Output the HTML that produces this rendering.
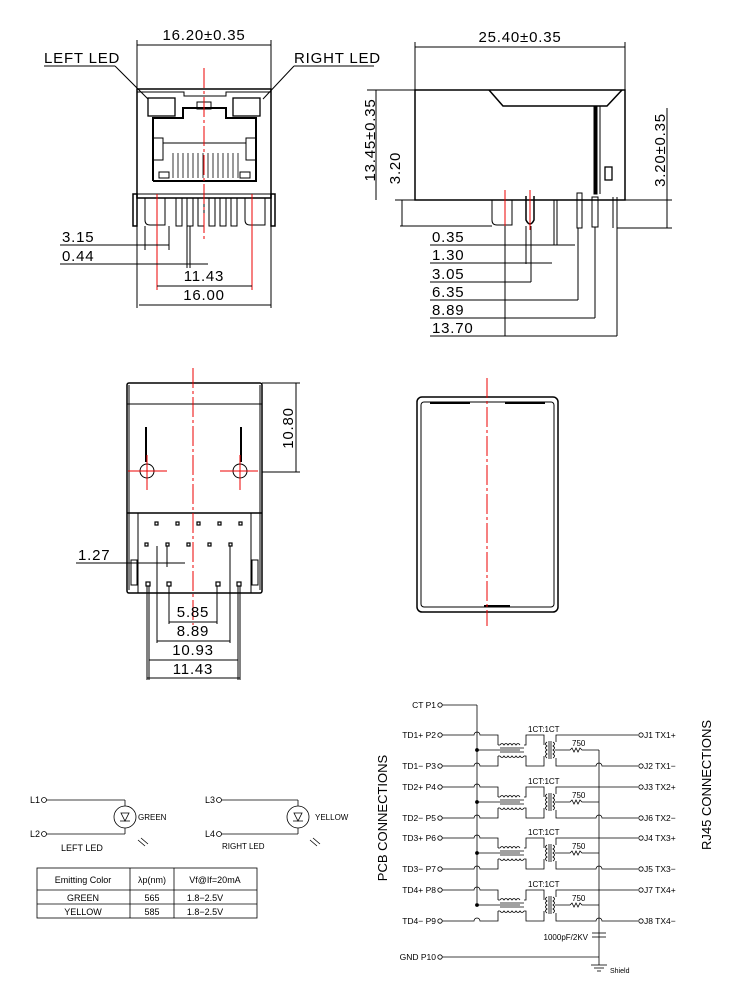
<!DOCTYPE html>
<html><head><meta charset="utf-8"><style>
html,body{margin:0;padding:0;background:#fff}
svg{display:block}
text{font-family:"Liberation Sans",sans-serif;fill:#000}
.d{font-size:15px;letter-spacing:0.8px}
.s{font-size:8px}
.t{font-size:8.5px}
.m{font-size:9px}
</style></head><body>
<svg width="750" height="994" viewBox="0 0 750 994" xmlns="http://www.w3.org/2000/svg" fill="none" stroke="#000" stroke-width="1">
<defs>
<g id="ch">
<circle cx="440" cy="735" r="2.2"/><circle cx="440" cy="766" r="2.2"/>
<path d="M442 735 H474 a3 3 0 0 1 6 0 H498 V745"/>
<path d="M442 766 H474 a3 3 0 0 1 6 0 H498 V756"/>
<line x1="477" y1="750" x2="520" y2="750"/><circle cx="477" cy="750" r="1.5" fill="#000"/>
<path d="M500 745 q2 -3 4 0 q2 -3 4 0 q2 -3 4 0 q2 -3 4 0 q2 -3 4 0 M500 756 q2 3 4 0 q2 3 4 0 q2 3 4 0 q2 3 4 0 q2 3 4 0 q2 3 4 0"/>
<line x1="500" y1="748" x2="524" y2="748"/><line x1="500" y1="752" x2="524" y2="752"/>
<path d="M498 745 H500 M498 756 H500 M524 745 H526 V735 H544 V745 M524 756 H526 V766 H544 V756"/>
<path d="M547 742 q-3 2 0 4 q-3 2 0 4 q-3 2 0 4 q-3 2 0 4 M553 742 q3 2 0 4 q3 2 0 4 q3 2 0 4 q3 2 0 4"/>
<line x1="549" y1="741" x2="549" y2="759"/><line x1="551" y1="741" x2="551" y2="759"/>
<path d="M556 742 V735 H638 M556 758 V766 H596 a3 3 0 0 1 6 0 H638 M555 750 H570 l2 -2 l2 4 l2 -4 l2 4 l2 -4 l2 2 H599"/>
<text class="s" x="528" y="732" stroke="none">1CT:1CT</text>
<text class="s" x="572" y="746" stroke="none">750</text>
<circle cx="641" cy="735" r="2.2"/><circle cx="641" cy="766" r="2.2"/>
</g>
</defs>
<!-- ===== TOP LEFT VIEW ===== -->
<g>
<line x1="137" y1="40" x2="137" y2="89"/><line x1="271" y1="40" x2="271" y2="89"/>
<line x1="137" y1="45" x2="271" y2="45"/>
<text class="d" x="204" y="40" text-anchor="middle" stroke="none">16.20±0.35</text>
<text class="d" x="44" y="63" stroke="none">LEFT  LED</text>
<line x1="44" y1="66" x2="115" y2="66"/><line x1="115" y1="66" x2="148" y2="99"/>
<text class="d" x="294" y="63" stroke="none">RIGHT  LED</text>
<line x1="294" y1="66" x2="374" y2="66"/><line x1="294" y1="66" x2="263" y2="99"/>
<rect x="137" y="89" width="134" height="109" stroke-width="1.5"/>
<polyline points="137,92 184,92 184,96 226,96 226,92 271,92"/>
<rect x="148" y="98" width="27" height="18" stroke-width="1.3"/>
<rect x="233" y="98" width="27" height="18" stroke-width="1.3"/>
<rect x="197" y="102" width="14" height="7"/>
<polyline points="153,181 153,118 183,118 183,108 226,108 226,118 256,118 256,181 153,181" stroke-width="2"/>
<rect x="153" y="138" width="10" height="22"/><rect x="246" y="138" width="10" height="22"/>
<line x1="163" y1="143" x2="246" y2="143"/>
<g stroke-width="0.8">
<line x1="173" y1="153" x2="173" y2="178"/><line x1="178" y1="153" x2="178" y2="178"/><line x1="183" y1="153" x2="183" y2="178"/><line x1="188" y1="153" x2="188" y2="178"/><line x1="193" y1="153" x2="193" y2="178"/><line x1="198" y1="153" x2="198" y2="178"/><line x1="203" y1="153" x2="203" y2="178"/><line x1="208" y1="153" x2="208" y2="178"/><line x1="213" y1="153" x2="213" y2="178"/><line x1="218" y1="153" x2="218" y2="178"/><line x1="223" y1="153" x2="223" y2="178"/><line x1="228" y1="153" x2="228" y2="178"/><line x1="233" y1="153" x2="233" y2="178"/><line x1="238" y1="153" x2="238" y2="178"/>
</g>
<rect x="159" y="172" width="10" height="6"/><rect x="240" y="172" width="10" height="6"/>
<line x1="133" y1="194" x2="275" y2="194"/>
<rect x="133" y="194" width="4" height="32" stroke-width="1.5"/><rect x="271" y="194" width="4" height="32" stroke-width="1.5"/>
<path d="M145 198 V220 Q145 225 150 225 H165 V198"/><path d="M245 198 V220 Q245 225 250 225 H265 V198"/>
<rect x="176" y="198" width="6" height="28"/><rect x="187" y="198" width="6" height="28"/><rect x="198" y="198" width="6" height="28"/><rect x="209" y="198" width="6" height="28"/><rect x="220" y="198" width="6" height="28"/><rect x="231" y="198" width="6" height="28"/>
<line x1="204" y1="68" x2="204" y2="242" stroke="#e00" stroke-dasharray="20,3,3,3"/>
<line x1="157" y1="194" x2="157" y2="290" stroke="#e00"/><line x1="252" y1="194" x2="252" y2="290" stroke="#e00"/>
<line x1="145" y1="226" x2="145" y2="250"/><line x1="169" y1="226" x2="169" y2="250"/>
<line x1="187" y1="226" x2="187" y2="268"/><line x1="190" y1="226" x2="190" y2="268"/>
<text class="d" x="62" y="242" stroke="none">3.15</text><line x1="60" y1="245" x2="169" y2="245"/>
<text class="d" x="62" y="261" stroke="none">0.44</text><line x1="60" y1="264" x2="208" y2="264"/>
<line x1="157" y1="286" x2="252" y2="286"/>
<text class="d" x="204" y="281" text-anchor="middle" stroke="none">11.43</text>
<line x1="137" y1="198" x2="137" y2="308"/><line x1="271" y1="198" x2="271" y2="308"/>
<line x1="139" y1="305" x2="271" y2="305"/>
<text class="d" x="204" y="300" text-anchor="middle" stroke="none">16.00</text>
</g>
<!-- ===== TOP RIGHT VIEW ===== -->
<g>
<line x1="415" y1="42" x2="415" y2="90"/><line x1="625" y1="42" x2="625" y2="90"/>
<line x1="415" y1="47" x2="625" y2="47"/>
<text class="d" x="520" y="42" text-anchor="middle" stroke="none">25.40±0.35</text>
<rect x="415" y="90" width="210" height="110" stroke-width="1.5"/>
<polyline points="489,90 503,106 607,106 622,90" stroke-width="1.5"/>
<rect x="594" y="106" width="3" height="88" fill="#000"/>
<line x1="600" y1="106" x2="600" y2="194"/>
<rect x="605" y="167" width="7" height="13" stroke-width="1.3"/>
<path d="M492 200 V220 Q492 225 497 225 H512 V200"/>
<path d="M526 196 V220 Q530 228 534 220 V196" stroke-width="1.5"/>
<line x1="554" y1="200" x2="554" y2="245"/><line x1="557" y1="200" x2="557" y2="245"/>
<rect x="577" y="193" width="5" height="35"/><rect x="592" y="197" width="6" height="30"/><line x1="617" y1="197" x2="617" y2="336"/><line x1="613" y1="197" x2="613" y2="228"/>
<line x1="505" y1="190" x2="505" y2="230" stroke="#e00"/><line x1="530" y1="190" x2="530" y2="230" stroke="#e00"/>
<line x1="367" y1="90" x2="415" y2="90"/><line x1="395" y1="200" x2="415" y2="200"/>
<line x1="376" y1="90" x2="376" y2="200"/>
<text class="d" transform="translate(377,140) rotate(-90)" text-anchor="middle" stroke="none" dy="-2">13.45±0.35</text>
<line x1="400" y1="226" x2="492" y2="226"/><line x1="402" y1="200" x2="402" y2="226"/>
<text class="d" transform="translate(400,168) rotate(-90)" text-anchor="middle" stroke="none">3.20</text>
<line x1="625" y1="200" x2="672" y2="200"/><line x1="617" y1="228" x2="672" y2="228"/>
<line x1="667" y1="200" x2="667" y2="228"/><line x1="667" y1="108" x2="667" y2="200"/>
<text class="d" transform="translate(665,150) rotate(-90)" text-anchor="middle" stroke="none">3.20±0.35</text>
<line x1="505" y1="226" x2="505" y2="336"/><line x1="526" y1="226" x2="526" y2="264"/><line x1="531" y1="226" x2="531" y2="282"/>
<line x1="578" y1="228" x2="578" y2="300"/>
<line x1="595" y1="227" x2="595" y2="318"/>
<text class="d" x="432" y="242" stroke="none">0.35</text><line x1="430" y1="245" x2="575" y2="245"/>
<text class="d" x="432" y="260" stroke="none">1.30</text><line x1="430" y1="263" x2="552" y2="263"/>
<text class="d" x="432" y="279" stroke="none">3.05</text><line x1="430" y1="282" x2="531" y2="282"/>
<text class="d" x="432" y="297" stroke="none">6.35</text><line x1="430" y1="300" x2="578" y2="300"/>
<text class="d" x="432" y="315" stroke="none">8.89</text><line x1="430" y1="318" x2="595" y2="318"/>
<text class="d" x="432" y="333" stroke="none">13.70</text><line x1="430" y1="336" x2="617" y2="336"/>
</g>
<!-- ===== BOTTOM LEFT VIEW ===== -->
<g>
<rect x="127" y="383" width="135" height="210" rx="2" stroke-width="1.5"/>
<line x1="129" y1="385" x2="129" y2="590"/><line x1="260" y1="385" x2="260" y2="590"/>
<line x1="127" y1="404" x2="262" y2="404"/>
<line x1="127" y1="513" x2="262" y2="513" stroke-width="1.5"/>
<line x1="138" y1="513" x2="138" y2="593"/><line x1="251" y1="513" x2="251" y2="593"/>
<line x1="146" y1="427" x2="146" y2="462" stroke-width="2"/><line x1="241" y1="427" x2="241" y2="462" stroke-width="2"/>
<circle cx="147" cy="471" r="7"/><circle cx="240" cy="471" r="7"/>
<line x1="128" y1="471" x2="167" y2="471" stroke="#e00"/><line x1="147" y1="455" x2="147" y2="490" stroke="#e00"/>
<line x1="220" y1="471" x2="258" y2="471" stroke="#e00"/><line x1="240" y1="455" x2="240" y2="490" stroke="#e00"/>
<line x1="193" y1="368" x2="193" y2="625" stroke="#e00" stroke-dasharray="20,3,3,3"/>
<g stroke-width="1.2">
<rect x="155" y="522" width="3" height="3"/><rect x="176" y="522" width="3" height="3"/><rect x="197" y="522" width="3" height="3"/><rect x="218" y="522" width="3" height="3"/><rect x="239" y="522" width="3" height="3"/>
<rect x="145" y="543" width="3" height="3"/><rect x="166" y="543" width="3" height="3"/><rect x="187" y="543" width="3" height="3"/><rect x="208" y="543" width="3" height="3"/><rect x="229" y="543" width="3" height="3"/>
<rect x="146" y="582" width="4" height="4"/><rect x="167" y="582" width="4" height="4"/><rect x="216" y="582" width="4" height="4"/><rect x="237" y="582" width="4" height="4"/>
</g>
<rect x="131" y="560" width="6" height="25"/><rect x="252" y="560" width="6" height="25"/>
<line x1="147" y1="586" x2="147" y2="680"/><line x1="149" y1="586" x2="149" y2="680"/>
<line x1="240" y1="586" x2="240" y2="680"/><line x1="238" y1="586" x2="238" y2="680"/>
<line x1="169" y1="586" x2="169" y2="624"/><line x1="217" y1="586" x2="217" y2="624"/>
<line x1="157" y1="546" x2="157" y2="643"/><line x1="230" y1="546" x2="230" y2="643"/>
<line x1="167" y1="546" x2="167" y2="567"/>
<line x1="262" y1="383" x2="300" y2="383"/><line x1="262" y1="472" x2="300" y2="472"/>
<line x1="296" y1="383" x2="296" y2="472"/>
<text class="d" transform="translate(293,428) rotate(-90)" text-anchor="middle" stroke="none">10.80</text>
<text class="d" x="78" y="560" stroke="none">1.27</text><line x1="76" y1="563" x2="185" y2="563"/>
<text class="d" x="193" y="617" text-anchor="middle" stroke="none">5.85</text><line x1="169" y1="622" x2="217" y2="622"/>
<text class="d" x="193" y="636" text-anchor="middle" stroke="none">8.89</text><line x1="157" y1="641" x2="230" y2="641"/>
<text class="d" x="193" y="655" text-anchor="middle" stroke="none">10.93</text><line x1="149" y1="660" x2="238" y2="660"/>
<text class="d" x="193" y="674" text-anchor="middle" stroke="none">11.43</text><line x1="147" y1="678" x2="240" y2="678"/>
</g>
<!-- ===== BOTTOM RIGHT VIEW ===== -->
<g>
<rect x="417" y="397" width="141" height="215" rx="5" stroke-width="1.5"/>
<rect x="421" y="402" width="133" height="205" rx="3"/>
<line x1="430" y1="403" x2="470" y2="403" stroke-width="2"/><line x1="505" y1="403" x2="545" y2="403" stroke-width="2"/>
<line x1="484" y1="606" x2="510" y2="606" stroke-width="2"/>
<line x1="487" y1="378" x2="487" y2="626" stroke="#e00" stroke-dasharray="20,3,3,3"/>
</g>
<!-- ===== LED SCHEMATIC ===== -->
<g stroke-width="0.8">
<text class="m" x="30" y="803" stroke="none">L1</text><circle cx="44" cy="800" r="2.5"/><line x1="46.5" y1="800" x2="125" y2="800"/><line x1="125" y1="800" x2="125" y2="834"/>
<text class="m" x="30" y="837" stroke="none">L2</text><circle cx="44" cy="834" r="2.5"/><line x1="46.5" y1="834" x2="125" y2="834"/>
<circle cx="125" cy="817" r="11" fill="#fff"/><path d="M120 821 H130 M121 813 H129 L125 821 Z"/>
<text class="s" x="138" y="820" stroke="none">GREEN</text>
<text class="m" x="61" y="851" stroke="none">LEFT  LED</text>
<path d="M138 840 L145 846 M141 838 L148 844"/>
<text class="m" x="205" y="803" stroke="none">L3</text><circle cx="219" cy="800" r="2.5"/><line x1="221.5" y1="800" x2="298" y2="800"/><line x1="298" y1="800" x2="298" y2="834"/>
<text class="m" x="205" y="837" stroke="none">L4</text><circle cx="219" cy="834" r="2.5"/><line x1="221.5" y1="834" x2="298" y2="834"/>
<circle cx="298" cy="817" r="11" fill="#fff"/><path d="M293 821 H303 M294 813 H302 L298 821 Z"/>
<text class="s" x="315" y="820" stroke="none">YELLOW</text>
<text class="s" x="222" y="849" stroke="none">RIGHT  LED</text>
<path d="M310 840 L317 846 M313 838 L320 844"/>
<rect x="37" y="868" width="220" height="50"/>
<line x1="37" y1="890" x2="257" y2="890"/><line x1="37" y1="904" x2="257" y2="904"/>
<line x1="130" y1="868" x2="130" y2="918"/><line x1="174" y1="868" x2="174" y2="918"/>
<text class="m" x="83" y="883" text-anchor="middle" stroke="none">Emitting  Color</text>
<text class="m" x="152" y="883" text-anchor="middle" stroke="none">λp(nm)</text>
<text class="m" x="215" y="883" text-anchor="middle" stroke="none">Vf@If=20mA</text>
<text class="m" x="83" y="901" text-anchor="middle" stroke="none">GREEN</text>
<text class="m" x="152" y="901" text-anchor="middle" stroke="none">565</text>
<text class="m" x="205" y="901" text-anchor="middle" stroke="none">1.8−2.5V</text>
<text class="m" x="83" y="915" text-anchor="middle" stroke="none">YELLOW</text>
<text class="m" x="152" y="915" text-anchor="middle" stroke="none">585</text>
<text class="m" x="205" y="915" text-anchor="middle" stroke="none">1.8−2.5V</text>
</g>
<!-- ===== TRANSFORMER SCHEMATIC ===== -->
<g stroke-width="0.8">
<text class="t" x="436" y="708" text-anchor="end" stroke="none">CT  P1</text><circle cx="440" cy="705" r="2.2"/>
<line x1="442" y1="705" x2="477" y2="705"/><line x1="477" y1="705" x2="477" y2="903"/>
<text class="t" x="436" y="960" text-anchor="end" stroke="none">GND  P10</text><circle cx="440" cy="957" r="2.2"/>
<line x1="442" y1="957" x2="599" y2="957"/>
<text style="font-size:13px" transform="translate(387,818) rotate(-90)" text-anchor="middle" stroke="none">PCB  CONNECTIONS</text>
<text style="font-size:13px" transform="translate(711,785) rotate(-90)" text-anchor="middle" stroke="none">RJ45  CONNECTIONS</text>
<line x1="599" y1="750" x2="599" y2="957"/>
<line x1="592" y1="933" x2="606" y2="933"/><line x1="592" y1="937" x2="606" y2="937"/>
<text class="s" x="588" y="940" text-anchor="end" stroke="none">1000pF/2KV</text>
<line x1="599" y1="957" x2="599" y2="965"/><line x1="591" y1="965" x2="607" y2="965"/><line x1="594" y1="968" x2="604" y2="968"/><line x1="597" y1="971" x2="601" y2="971"/>
<text style="font-size:7px" x="610" y="973" stroke="none">Shield</text>
<use href="#ch"/>
<g transform="translate(0,52)"><use href="#ch"/></g>
<g transform="translate(0,103)"><use href="#ch"/></g>
<g transform="translate(0,155)"><use href="#ch"/></g>
<g class="t" stroke="none">
<text x="436" y="738" text-anchor="end">TD1+  P2</text><text x="436" y="769" text-anchor="end">TD1−  P3</text>
<text x="436" y="790" text-anchor="end">TD2+  P4</text><text x="436" y="821" text-anchor="end">TD2−  P5</text>
<text x="436" y="841" text-anchor="end">TD3+  P6</text><text x="436" y="872" text-anchor="end">TD3−  P7</text>
<text x="436" y="893" text-anchor="end">TD4+  P8</text><text x="436" y="924" text-anchor="end">TD4−  P9</text>
<text x="644" y="738">J1  TX1+</text><text x="644" y="769">J2  TX1−</text>
<text x="644" y="790">J3  TX2+</text><text x="644" y="821">J6  TX2−</text>
<text x="644" y="841">J4  TX3+</text><text x="644" y="872">J5  TX3−</text>
<text x="644" y="893">J7  TX4+</text><text x="644" y="924">J8  TX4−</text>
</g>
</g>
</svg>
</body></html>
